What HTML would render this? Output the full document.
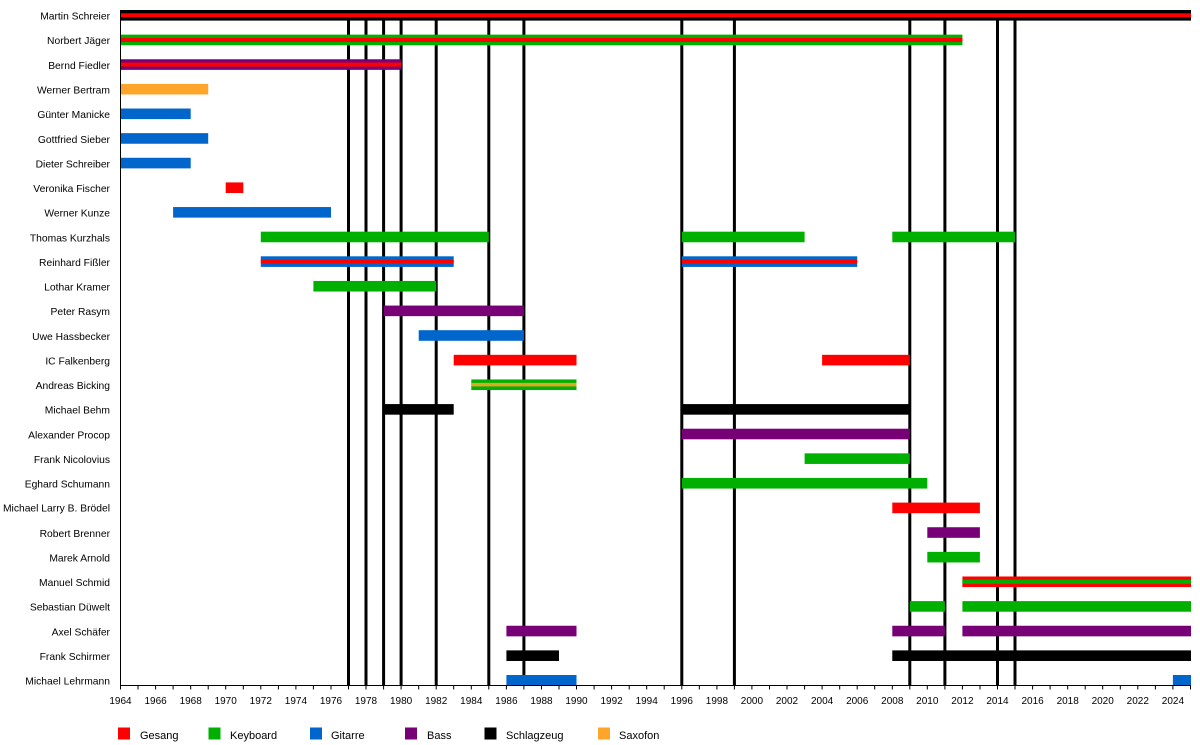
<!DOCTYPE html>
<html>
<head>
<meta charset="utf-8">
<style>
html,body{margin:0;padding:0;background:#fff;}
svg{display:block;}
text{font-family:"Liberation Sans",Arial,sans-serif;fill:#000;}
.lb{font-size:10.3px;text-anchor:end;}
.tk{font-size:10px;text-anchor:middle;}
.lg{font-size:11px;}
</style>
</head>
<body>
<svg width="1200" height="745" viewBox="0 0 1200 745" xmlns="http://www.w3.org/2000/svg">
<!-- vertical event lines -->
<g fill="#000">
<rect x="347" y="10" width="3" height="675"/>
<rect x="364.5" y="10" width="3" height="675"/>
<rect x="382.1" y="10" width="3" height="675"/>
<rect x="399.6" y="10" width="3" height="675"/>
<rect x="434.7" y="10" width="3" height="675"/>
<rect x="487.3" y="10" width="3" height="675"/>
<rect x="522.4" y="10" width="3" height="675"/>
<rect x="680.3" y="10" width="3" height="675"/>
<rect x="732.9" y="10" width="3" height="675"/>
<rect x="908.3" y="10" width="3" height="675"/>
<rect x="943.4" y="10" width="3" height="675"/>
<rect x="996" y="10" width="3" height="675"/>
<rect x="1013.5" y="10" width="3" height="675"/>
</g>

<!-- bars -->
<rect x="120.5" y="10" width="1070.5" height="10.6" fill="#000"/>
<rect x="120.5" y="13.3" width="1070.5" height="4" fill="#ff0000"/>
<rect x="120.5" y="34.63" width="841.9" height="10.6" fill="#00b000"/>
<rect x="120.5" y="37.93" width="841.9" height="4" fill="#ff0000"/>
<rect x="120.5" y="59.26" width="280.6" height="10.6" fill="#770077"/>
<rect x="120.5" y="62.56" width="280.6" height="4" fill="#ff0000"/>
<rect x="120.5" y="83.89" width="87.7" height="10.6" fill="#ffa52b"/>
<rect x="120.5" y="108.52" width="70.2" height="10.6" fill="#0066cc"/>
<rect x="120.5" y="133.15" width="87.7" height="10.6" fill="#0066cc"/>
<rect x="120.5" y="157.78" width="70.2" height="10.6" fill="#0066cc"/>
<rect x="225.7" y="182.41" width="17.6" height="10.6" fill="#ff0000"/>
<rect x="173.1" y="207.04" width="157.9" height="10.6" fill="#0066cc"/>
<rect x="260.8" y="231.67" width="228" height="10.6" fill="#00b000"/>
<rect x="681.8" y="231.67" width="122.8" height="10.6" fill="#00b000"/>
<rect x="892.3" y="231.67" width="122.7" height="10.6" fill="#00b000"/>
<rect x="260.8" y="256.3" width="192.9" height="10.6" fill="#0066cc"/>
<rect x="260.8" y="259.7" width="192.9" height="3.6" fill="#ff0000"/>
<rect x="681.8" y="256.3" width="175.4" height="10.6" fill="#0066cc"/>
<rect x="681.8" y="259.7" width="175.4" height="3.6" fill="#ff0000"/>
<rect x="313.4" y="280.93" width="122.8" height="10.6" fill="#00b000"/>
<rect x="383.6" y="305.56" width="140.3" height="10.6" fill="#770077"/>
<rect x="418.7" y="330.19" width="105.2" height="10.6" fill="#0066cc"/>
<rect x="453.7" y="354.82" width="122.8" height="10.6" fill="#ff0000"/>
<rect x="822.1" y="354.82" width="87.7" height="10.6" fill="#ff0000"/>
<rect x="471.3" y="379.45" width="105.2" height="10.6" fill="#00b000"/>
<rect x="471.3" y="382.85" width="105.2" height="3.6" fill="#d8aa22"/>
<rect x="383.6" y="404.08" width="70.1" height="10.6" fill="#000"/>
<rect x="681.8" y="404.08" width="228" height="10.6" fill="#000"/>
<rect x="681.8" y="428.71" width="228" height="10.6" fill="#770077"/>
<rect x="804.6" y="453.34" width="105.2" height="10.6" fill="#00b000"/>
<rect x="681.8" y="477.97" width="245.5" height="10.6" fill="#00b000"/>
<rect x="892.3" y="502.6" width="87.6" height="10.6" fill="#ff0000"/>
<rect x="927.3" y="527.23" width="52.6" height="10.6" fill="#770077"/>
<rect x="927.3" y="551.86" width="52.6" height="10.6" fill="#00b000"/>
<rect x="962.4" y="576.49" width="228.6" height="10.6" fill="#ff0000"/>
<rect x="962.4" y="579.79" width="228.6" height="4" fill="#00b000"/>
<rect x="909.8" y="601.12" width="35.1" height="10.6" fill="#00b000"/>
<rect x="962.4" y="601.12" width="228.6" height="10.6" fill="#00b000"/>
<rect x="506.4" y="625.75" width="70.1" height="10.6" fill="#770077"/>
<rect x="892.3" y="625.75" width="52.6" height="10.6" fill="#770077"/>
<rect x="962.4" y="625.75" width="228.6" height="10.6" fill="#770077"/>
<rect x="506.4" y="650.38" width="52.6" height="10.6" fill="#000"/>
<rect x="892.3" y="650.38" width="298.7" height="10.6" fill="#000"/>
<rect x="506.4" y="675.01" width="70.1" height="10.5" fill="#0066cc"/>
<rect x="1172.9" y="675.01" width="18.1" height="10.5" fill="#0066cc"/>

<!-- axes -->
<rect x="120" y="10" width="1" height="676" fill="#000"/>
<rect x="120" y="685" width="1071" height="1" fill="#000"/>

<!-- ticks -->
<g stroke="#000" stroke-width="1">
<path d="M120.5 685V689.5M138 685V689.5M155.6 685V689.5M173.1 685V689.5M190.7 685V689.5M208.2 685V689.5M225.7 685V689.5M243.3 685V689.5M260.8 685V689.5M278.4 685V689.5M295.9 685V689.5M313.4 685V689.5M331 685V689.5M348.5 685V689.5M366 685V689.5M383.6 685V689.5M401.1 685V689.5M418.7 685V689.5M436.2 685V689.5M453.7 685V689.5M471.3 685V689.5M488.8 685V689.5M506.4 685V689.5M523.9 685V689.5M541.5 685V689.5M559 685V689.5M576.5 685V689.5M594.1 685V689.5M611.6 685V689.5M629.2 685V689.5M646.7 685V689.5M664.2 685V689.5M681.8 685V689.5M699.3 685V689.5M716.9 685V689.5M734.4 685V689.5M751.9 685V689.5M769.5 685V689.5M787 685V689.5M804.6 685V689.5M822.1 685V689.5M839.7 685V689.5M857.2 685V689.5M874.7 685V689.5M892.3 685V689.5M909.8 685V689.5M927.3 685V689.5M944.9 685V689.5M962.4 685V689.5M980 685V689.5M997.5 685V689.5M1015 685V689.5M1032.6 685V689.5M1050.1 685V689.5M1067.7 685V689.5M1085.2 685V689.5M1102.7 685V689.5M1120.3 685V689.5M1137.8 685V689.5M1155.4 685V689.5M1172.9 685V689.5M1190.5 685V689.5"/>
</g>

<!-- tick labels -->
<g class="tk">
<text x="120.5" y="704">1964</text>
<text x="155.6" y="704">1966</text>
<text x="190.7" y="704">1968</text>
<text x="225.7" y="704">1970</text>
<text x="260.8" y="704">1972</text>
<text x="295.9" y="704">1974</text>
<text x="331" y="704">1976</text>
<text x="366" y="704">1978</text>
<text x="401.1" y="704">1980</text>
<text x="436.2" y="704">1982</text>
<text x="471.3" y="704">1984</text>
<text x="506.4" y="704">1986</text>
<text x="541.5" y="704">1988</text>
<text x="576.5" y="704">1990</text>
<text x="611.6" y="704">1992</text>
<text x="646.7" y="704">1994</text>
<text x="681.8" y="704">1996</text>
<text x="716.9" y="704">1998</text>
<text x="751.9" y="704">2000</text>
<text x="787" y="704">2002</text>
<text x="822.1" y="704">2004</text>
<text x="857.2" y="704">2006</text>
<text x="892.3" y="704">2008</text>
<text x="927.3" y="704">2010</text>
<text x="962.4" y="704">2012</text>
<text x="997.5" y="704">2014</text>
<text x="1032.6" y="704">2016</text>
<text x="1067.7" y="704">2018</text>
<text x="1102.7" y="704">2020</text>
<text x="1137.8" y="704">2022</text>
<text x="1172.9" y="704">2024</text>
</g>

<!-- row labels -->
<g class="lb">
<text x="110" y="19.6">Martin Schreier</text>
<text x="110" y="44.2">Norbert Jäger</text>
<text x="110" y="68.9">Bernd Fiedler</text>
<text x="110" y="93.5">Werner Bertram</text>
<text x="110" y="118.1">Günter Manicke</text>
<text x="110" y="142.8">Gottfried Sieber</text>
<text x="110" y="167.4">Dieter Schreiber</text>
<text x="110" y="192">Veronika Fischer</text>
<text x="110" y="216.6">Werner Kunze</text>
<text x="110" y="241.3">Thomas Kurzhals</text>
<text x="110" y="265.9">Reinhard Fißler</text>
<text x="110" y="290.5">Lothar Kramer</text>
<text x="110" y="315.2">Peter Rasym</text>
<text x="110" y="339.8">Uwe Hassbecker</text>
<text x="110" y="364.4">IC Falkenberg</text>
<text x="110" y="389.1">Andreas Bicking</text>
<text x="110" y="413.7">Michael Behm</text>
<text x="110" y="438.3">Alexander Procop</text>
<text x="110" y="462.9">Frank Nicolovius</text>
<text x="110" y="487.6">Eghard Schumann</text>
<text x="110" y="511.6">Michael Larry B. Brödel</text>
<text x="110" y="536.8">Robert Brenner</text>
<text x="110" y="561.5">Marek Arnold</text>
<text x="110" y="586.1">Manuel Schmid</text>
<text x="110" y="610.7">Sebastian Düwelt</text>
<text x="110" y="635.4">Axel Schäfer</text>
<text x="110" y="660">Frank Schirmer</text>
<text x="110" y="684.6">Michael Lehrmann</text>
</g>

<!-- legend -->
<rect x="118" y="727.5" width="12" height="12" fill="#ff0000"/>
<text class="lg" x="140" y="739">Gesang</text>
<rect x="208.5" y="727.5" width="12" height="12" fill="#00b000"/>
<text class="lg" x="230" y="739">Keyboard</text>
<rect x="310" y="727.5" width="12" height="12" fill="#0066cc"/>
<text class="lg" x="331" y="739">Gitarre</text>
<rect x="405" y="727.5" width="12" height="12" fill="#770077"/>
<text class="lg" x="427" y="739">Bass</text>
<rect x="484.5" y="727.5" width="12" height="12" fill="#000"/>
<text class="lg" x="506" y="739">Schlagzeug</text>
<rect x="598" y="727.5" width="12" height="12" fill="#ffa52b"/>
<text class="lg" x="619" y="739">Saxofon</text>
</svg>
</body>
</html>
